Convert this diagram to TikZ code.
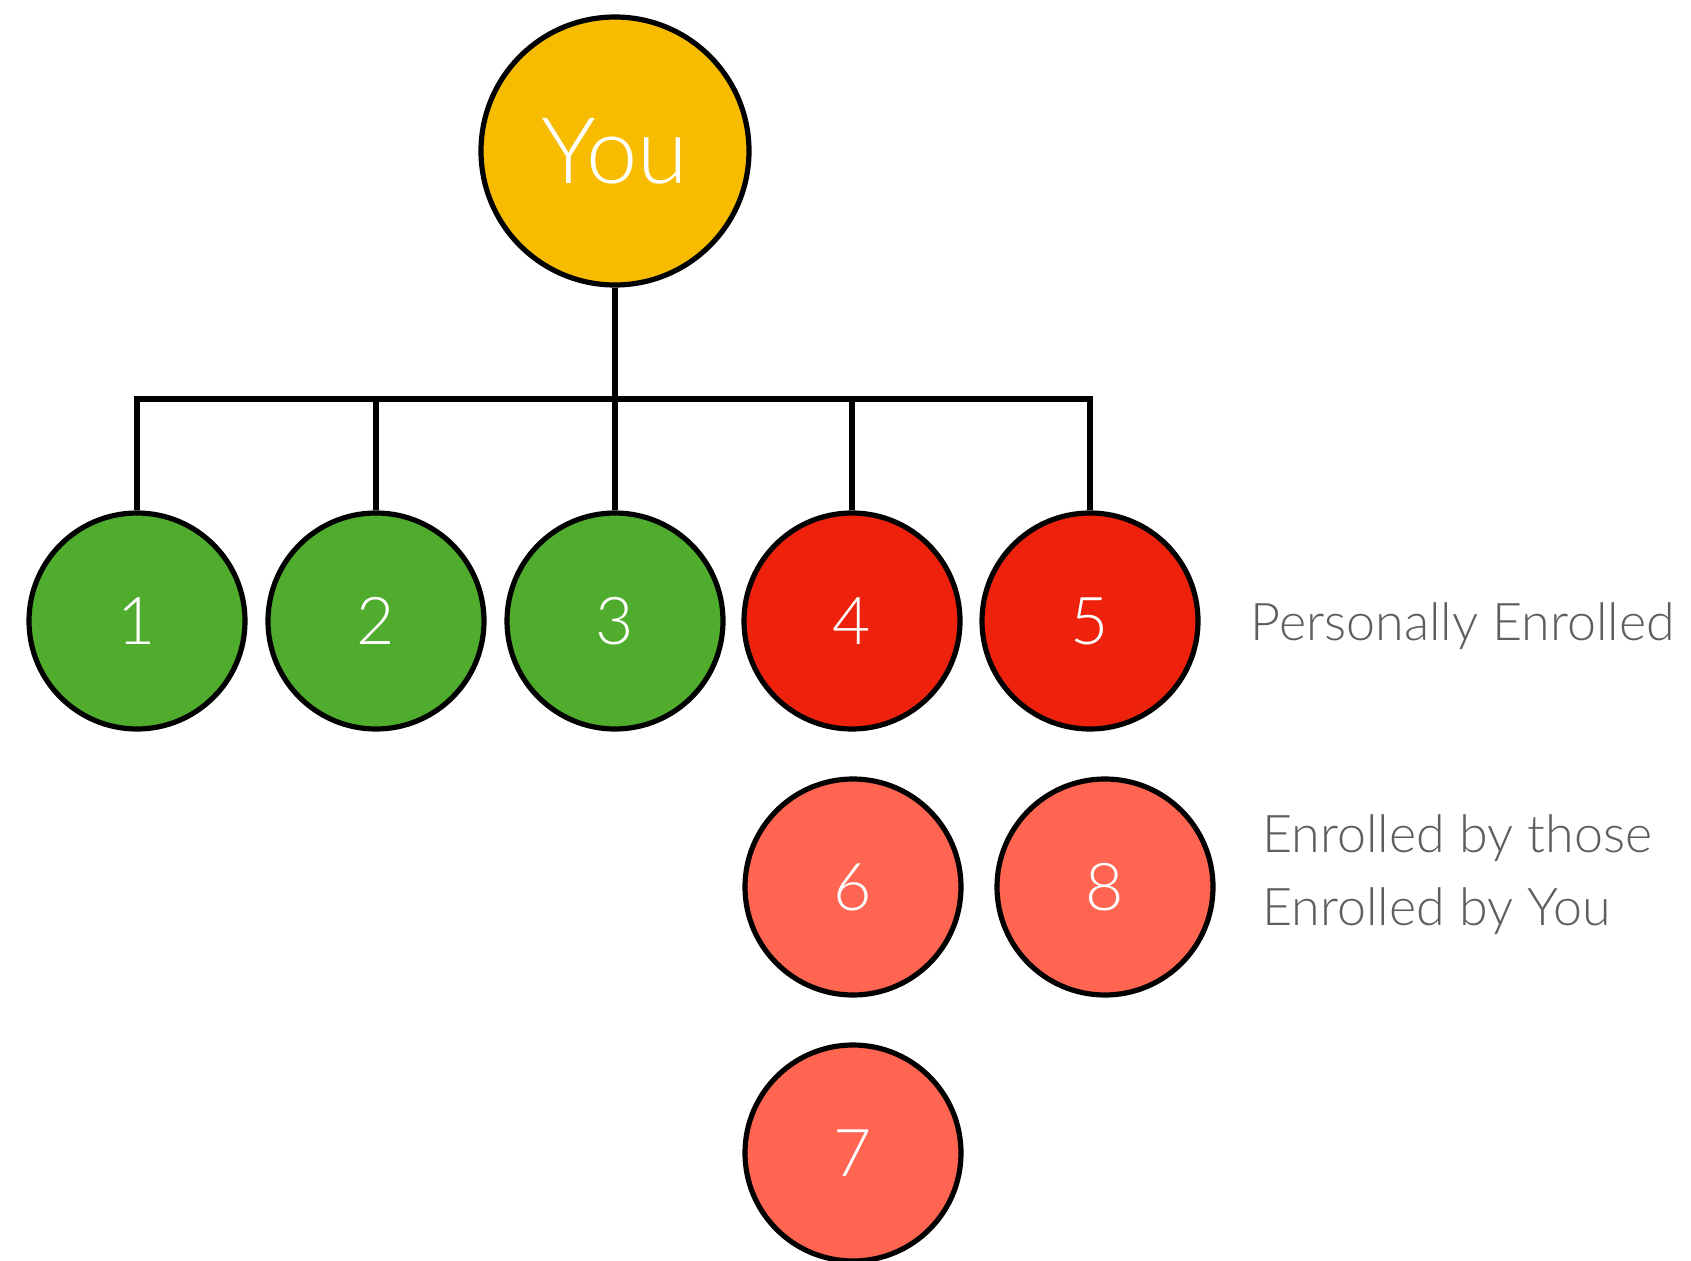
\documentclass[tikz,border=0pt]{standalone}
\usepackage{fontspec}
\setmainfont{Lato Light}
\definecolor{youfill}{RGB}{247,188,0}
\definecolor{greenfill}{RGB}{79,172,45}
\definecolor{redfill}{RGB}{238,34,12}
\definecolor{pinkfill}{RGB}{255,101,80}
\definecolor{labelgray}{RGB}{94,94,94}
\tikzset{every picture/.style={line width=2.6pt}}
\tikzset{
  member/.style={circle, draw=black, line width=2.6pt, minimum size=216pt*0.5, inner sep=0pt, text=white, font=\fontsize{33}{36}\selectfont},
  legend/.style={anchor=base west, inner sep=0pt, text=labelgray, font=\fontsize{26}{34}\selectfont}
}

\begin{document}
\begin{tikzpicture}[x=0.5pt,y=0.5pt,yscale=-1]
\useasboundingbox (0,0) rectangle (1691,1261);

% You
\node [member, fill=youfill, minimum size=268pt*0.5, font=\fontsize{46}{50}\selectfont] (you) at (615,151) {You};

% Personally enrolled
\node [member, fill=greenfill] (m1) at (137,621) {1};
\node [member, fill=greenfill] (m2) at (376,621) {2};
\node [member, fill=greenfill] (m3) at (615,621) {3};
\node [member, fill=redfill] (m4) at (852,621) {4};
\node [member, fill=redfill] (m5) at (1090,621) {5};

% second level
\node [member, fill=pinkfill] (m6) at (853,887) {6};
\node [member, fill=pinkfill] (m8) at (1105,887) {8};
\node [member, fill=pinkfill] (m7) at (853,1153) {7};

% Tree lines
\coordinate (bar) at (615,399);
\draw (you.south) -- (you.south |- bar);
\draw (m1.north) |- (m5.north |- bar) -- (m5.north);
\foreach \m in {m2,m3,m4}
  \draw (\m.north) -- (\m.north |- bar);

% Text Node
\node [legend] (lbl1) at (1248,640) {Personally Enrolled};
% Text Node
\node [legend] (lbl2) at (1260,852) {Enrolled by those};
% Text Node
\node [legend] (lbl3) at (1260,925) {Enrolled by You};

\end{tikzpicture}
\end{document}
